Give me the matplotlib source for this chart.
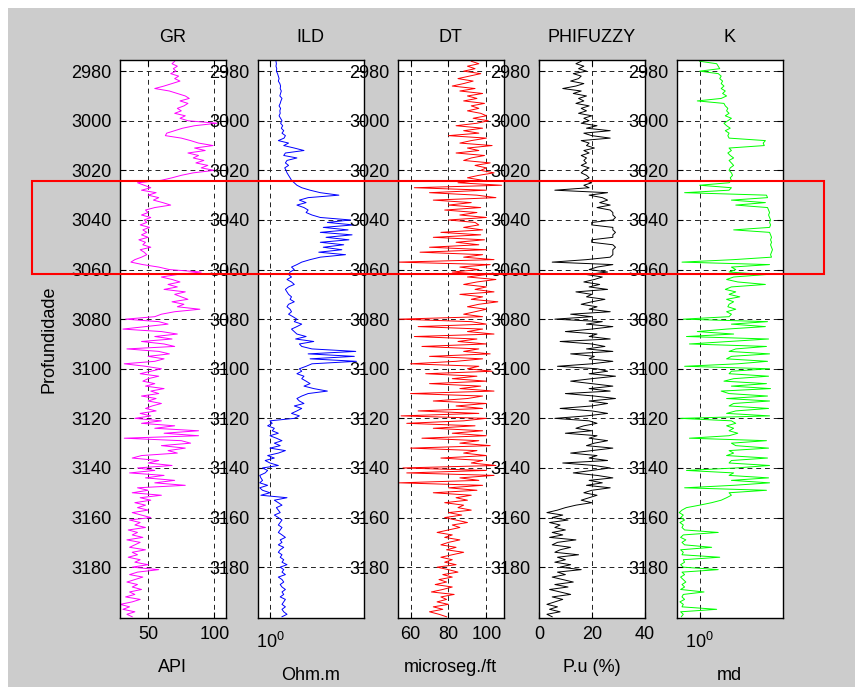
import matplotlib
matplotlib.use("Agg")

import numpy as np
import matplotlib.pyplot as plt
from matplotlib.patches import Rectangle
from matplotlib.ticker import NullLocator
from matplotlib.transforms import blended_transform_factory

plt.rcParams['font.family'] = ['Liberation Sans', 'DejaVu Sans']

# profundidade (1 ft por amostra)
depth_top, depth_base = 2976, 3200
depth = np.arange(depth_top, depth_base + 1)

gr = [
    70, 68, 72, 69, 71, 67, 73, 70, 74, 68,
    62, 55, 66, 72, 78, 81, 74, 80, 77, 72,
    75, 70, 78, 74, 80, 102, 85, 76, 70, 64,
    63, 75, 82, 88, 99, 85, 93, 80, 88, 84,
    92, 86, 95, 90, 100, 84, 75, 68, 60, 42,
    47, 52, 45, 56, 50, 58, 54, 61, 67, 55,
    48, 50, 45, 52, 47, 49, 44, 51, 46, 49,
    45, 50, 43, 48, 46, 52, 44, 47, 49, 45,
    40, 37, 46, 58, 66, 90, 72, 60, 68, 74,
    65, 72, 62, 78, 70, 75, 80, 68, 77, 72,
    89, 70, 60, 55, 33, 58, 65, 48, 31, 60,
    72, 55, 68, 45, 62, 70, 34, 58, 66, 50,
    62, 55, 32, 48, 60, 52, 44, 58, 50, 46,
    55, 48, 62, 52, 58, 45, 56, 50, 60, 53,
    48, 56, 44, 52, 40, 60, 45, 70, 55, 88,
    62, 88, 32, 75, 82, 60, 78, 65, 72, 45,
    38, 58, 50, 68, 42, 55, 36, 62, 48, 70,
    55, 78, 42, 50, 38, 60, 44, 52, 40, 48,
    42, 50, 38, 45, 52, 36, 44, 40, 48, 35,
    42, 38, 46, 34, 44, 40, 36, 48, 38, 42,
    35, 44, 40, 50, 38, 58, 42, 36, 46, 40,
    34, 42, 38, 45, 36, 40, 33, 44, 38, 29,
    36, 31, 40, 34, 38,
]

ild = [
    1.14, 1.15, 1.14, 1.16, 1.15, 1.18, 1.2, 1.22, 1.2, 1.24,
    1.26, 1.25, 1.28, 1.26, 1.24, 1.3, 1.27, 1.25, 1.22, 1.26,
    1.24, 1.25, 1.22, 1.26, 1.3, 1.26, 1.32, 1.28, 1.35, 1.3,
    1.4, 1.36, 1.2, 1.5, 1.35, 1.7, 2.1, 1.4, 1.35, 1.8,
    1.45, 1.4, 1.5, 1.38, 1.42, 1.45, 1.5, 1.55, 1.6, 1.7,
    1.8, 2.0, 2.4, 3.0, 4.5, 2.3, 1.9, 2.2, 1.8, 2.1,
    2.3, 2.2, 2.5, 3.0, 5.8, 3.5, 6.2, 3.2, 5.5, 3.0,
    6.0, 3.4, 5.6, 3.0, 5.0, 3.2, 4.8, 2.9, 5.2, 3.0,
    2.4, 2.0, 1.8, 1.6, 1.7, 1.55, 1.5, 1.6, 1.45, 1.6,
    1.7, 1.5, 1.4, 1.45, 1.5, 1.6, 1.55, 1.7, 1.5, 1.45,
    1.55, 1.6, 1.5, 1.65, 1.8, 1.7, 2.0, 1.8, 1.6, 1.7,
    1.8, 2.2, 1.75, 2.6, 1.9, 2.0, 2.5, 6.5, 2.3, 6.3,
    2.4, 6.6, 2.5, 2.2, 1.9, 2.0, 1.8, 2.1, 2.0, 2.2,
    2.4, 2.1, 2.6, 3.5, 2.3, 2.0, 1.8, 1.9, 2.1, 1.7,
    2.0, 1.8, 1.6, 1.9, 1.7, 1.0, 1.05, 0.95, 1.1, 1.05,
    1.2, 1.0, 1.15, 1.3, 1.1, 1.25, 1.0, 1.4, 1.2, 0.95,
    1.1, 0.9, 1.0, 1.2, 0.85, 0.95, 0.9, 0.8, 0.82, 0.85,
    0.8, 0.95, 0.8, 0.85, 1.0, 0.82, 1.45, 1.1, 1.2, 1.3,
    1.15, 1.2, 1.25, 1.1, 1.2, 1.3, 1.25, 1.2, 1.3, 1.25,
    1.2, 1.3, 1.4, 1.25, 1.3, 1.2, 1.35, 1.25, 1.2, 1.3,
    1.25, 1.35, 1.3, 1.45, 1.25, 1.35, 1.3, 1.4, 1.2, 1.3,
    1.35, 1.25, 1.3, 1.4, 1.3, 1.35, 1.25, 1.4, 1.35, 1.3,
    1.4, 1.3, 1.35, 1.45, 1.3,
]

dt = [
    92, 96, 90, 94, 88, 97, 91, 85, 93, 88,
    82, 94, 86, 98, 90, 95, 88, 99, 92, 96,
    90, 97, 100, 93, 101, 95, 84, 98, 88, 96,
    80, 100, 92, 86, 103, 90, 96, 84, 99, 92,
    88, 102, 94, 100, 97, 104, 96, 90, 98, 85,
    108, 62, 100, 70, 95, 105, 72, 92, 80, 97,
    78, 95, 86, 100, 80, 94, 96, 88, 98, 76,
    97, 72, 99, 84, 96, 70, 100, 65, 98, 88,
    104, 53, 102, 86, 96, 82, 100, 90, 105, 95,
    88, 100, 94, 104, 86, 98, 92, 106, 96, 90,
    100, 94, 88, 98, 54, 92, 100, 64, 98, 90,
    104, 62, 95, 85, 100, 66, 96, 88, 102, 70,
    98, 84, 60, 96, 90, 103, 68, 95, 82, 100,
    70, 97, 86, 104, 60, 98, 90, 72, 100, 84,
    98, 64, 96, 55, 100, 88, 58, 94, 72, 98,
    82, 100, 66, 96, 86, 102, 60, 95, 88, 100,
    76, 98, 92, 105, 56, 100, 58, 104, 86, 96,
    54, 98, 80, 95, 72, 92, 84, 90, 78, 88,
    85, 92, 80, 87, 78, 84, 90, 82, 86, 80,
    74, 82, 78, 86, 80, 76, 84, 79, 88, 82,
    76, 82, 78, 84, 74, 80, 85, 77, 82, 75,
    79, 73, 82, 77, 71, 83, 76, 79, 74, 80,
    72, 77, 70, 75, 79,
]

phifuzzy = [
    16, 14, 17, 15, 18, 13, 16, 15, 12, 17,
    14, 9, 16, 13, 18, 15, 17, 14, 19, 16,
    18, 15, 20, 17, 19, 16, 22, 18, 27, 17,
    20, 27, 16, 19, 18, 21, 17, 19, 16, 18,
    17, 18, 16, 19, 17, 16, 18, 19, 17, 20,
    17, 19, 6, 26, 19, 24, 26, 23, 27, 22,
    27, 28, 28, 29, 28, 20, 20, 28, 28, 29,
    28, 28, 20, 20, 28, 29, 28, 28, 28, 27,
    18, 5, 28, 22, 19, 26, 18, 24, 21, 17,
    23, 19, 26, 14, 20, 18, 25, 20, 16, 22,
    19, 27, 12, 20, 6, 24, 18, 28, 20, 10,
    22, 19, 27, 8, 20, 25, 18, 28, 12, 21,
    19, 28, 20, 7, 22, 26, 19, 29, 20, 12,
    20, 28, 19, 27, 10, 21, 29, 19, 26, 20,
    8, 20, 26, 18, 6, 19, 22, 17, 14, 20,
    10, 22, 19, 26, 21, 18, 28, 20, 12, 22,
    19, 26, 9, 21, 27, 20, 13, 22, 28, 19,
    24, 18, 27, 20, 17, 22, 19, 16, 20, 14,
    10, 7, 3, 9, 5, 11, 4, 8, 6, 10,
    5, 9, 4, 14, 7, 5, 12, 8, 6, 15,
    7, 10, 6, 12, 8, 16, 7, 10, 5, 9,
    13, 6, 11, 4, 8, 12, 5, 9, 6, 3,
    7, 4, 8, 3, 5,
]

perm_k = [
    1.0, 1.45, 1.5, 1.55, 1.0, 1.5, 1.6, 1.55, 1.65, 1.6,
    1.7, 1.6, 1.75, 1.65, 1.8, 1.6, 0.95, 1.7, 1.75, 1.85,
    1.8, 1.9, 1.75, 2.0, 1.85, 1.7, 1.8, 1.95, 1.75, 1.9,
    1.85, 1.9, 4.2, 4.0, 4.1, 1.9, 2.0, 1.85, 1.95, 2.1,
    1.9, 2.0, 2.1, 1.95, 1.9, 2.0, 2.05, 1.95, 2.0, 1.9,
    1.0, 2.0, 1.9, 0.72, 4.3, 4.4, 2.0, 4.2, 2.2, 4.4,
    4.5, 4.6, 4.5, 4.6, 4.7, 4.6, 4.7, 4.6, 2.1, 4.6,
    4.7, 4.8, 4.7, 4.8, 4.7, 4.8, 4.9, 4.8, 4.7, 4.8,
    2.1, 0.68, 4.6, 2.0, 2.2, 1.9, 4.3, 2.1, 1.8, 2.3,
    4.2, 2.0, 1.75, 2.2, 1.9, 2.4, 1.8, 2.1, 1.9, 1.85,
    2.2, 1.8, 2.0, 1.9, 0.7, 4.4, 2.0, 4.2, 1.8, 0.95,
    2.1, 0.75, 4.5, 1.9, 0.8, 4.3, 2.2, 1.9, 4.6, 2.0,
    1.8, 4.4, 2.3, 0.72, 4.6, 2.0, 1.9, 4.5, 2.1, 1.7,
    4.3, 2.0, 4.7, 1.6, 1.9, 4.4, 1.8, 4.6, 2.1, 1.9,
    4.5, 2.2, 1.8, 4.6, 0.66, 2.0, 2.2, 1.8, 2.1, 1.9,
    2.3, 1.9, 0.8, 4.3, 2.0, 2.2, 4.5, 1.9, 2.1, 1.8,
    4.4, 2.0, 1.9, 4.6, 2.2, 0.75, 2.1, 1.9, 4.5, 2.0,
    4.6, 2.1, 0.72, 4.3, 1.9, 2.0, 1.8, 1.6, 1.3, 1.0,
    0.75, 0.68, 0.64, 0.7, 0.66, 0.72, 0.65, 0.7, 0.68, 0.72,
    1.5, 0.7, 0.66, 0.74, 0.68, 0.72, 1.3, 0.66, 0.7, 0.68,
    1.55, 0.7, 0.72, 0.66, 0.7, 1.5, 0.68, 0.72, 0.66, 0.7,
    0.74, 0.68, 0.72, 0.66, 1.1, 0.7, 0.68, 0.72, 0.65, 0.7,
    0.68, 1.45, 0.66, 0.7, 0.67,
]

titles = ['GR', 'ILD', 'DT', 'PHIFUZZY', 'K']
units = ['API', 'Ohm.m', 'microseg./ft', 'P.u (%)', 'md']
colors = ['#ff00ff', '#0000ff', '#ff0000', '#000000', '#00ff00']
curves = [gr, ild, dt, phifuzzy, perm_k]
log_track = [False, True, False, False, True]
xlims = [(28.8, 108.3), (0.77, 7.7), (53.4, 109.0), (0, 40), (0.61, 6.1)]
xticks = [[50, 100], [1], [60, 80, 100], [0, 20, 40], [1]]
yticks = [2980, 3000, 3020, 3040, 3060, 3080, 3100, 3120, 3140, 3160, 3180]
ylim = (3200.5, 2975.5)
zona = (3024.4, 3061.9)   # intervalo destacado

W, H = 855, 687
fig = plt.figure(figsize=(W / 100, H / 100), dpi=100, facecolor='white')
fig.add_artist(Rectangle((8 / W, 0), 1 - 8 / W, 1 - 8 / H, transform=fig.transFigure,
                         facecolor='#cccccc', edgecolor='none', zorder=-10))

lefts = [120, 258, 398, 539, 677]
axes = []
for i in range(5):
    ax = fig.add_axes([lefts[i] / W, 69 / H, 105.5 / W, 558 / H])
    ax.set_facecolor('white')
    ax.plot(curves[i], depth, color=colors[i], lw=0.7)
    if log_track[i]:
        ax.set_xscale('log')
        ax.xaxis.set_minor_locator(NullLocator())
    ax.set_xlim(*xlims[i])
    ax.set_xticks(xticks[i])
    ax.set_ylim(*ylim)
    ax.set_yticks(yticks)
    ax.grid(True, color='#222222', ls=(0, (5, 4)), lw=0.7)
    ax.tick_params(direction='in', top=True, right=True, length=4, width=0.8,
                   labelsize=13, pad=6)
    if log_track[i]:
        ax.tick_params(axis='x', pad=10)
    for s in ax.spines.values():
        s.set_linewidth(1.0)
    ax.set_title(titles[i], fontsize=13, pad=13)
    ax.set_xlabel(units[i], fontsize=13, labelpad=11)
    axes.append(ax)

axes[0].set_ylabel('Profundidade', fontsize=13, labelpad=10)

# retangulo vermelho sobre o intervalo
tr = blended_transform_factory(fig.transFigure, axes[0].transData)
fig.add_artist(Rectangle((32 / W, zona[0]), (824 - 32) / W, zona[1] - zona[0],
                         transform=tr, fill=False, edgecolor='#ff0000', lw=1.5,
                         clip_on=False, zorder=20))

fig.savefig('out.png', dpi=100, facecolor=fig.get_facecolor())
